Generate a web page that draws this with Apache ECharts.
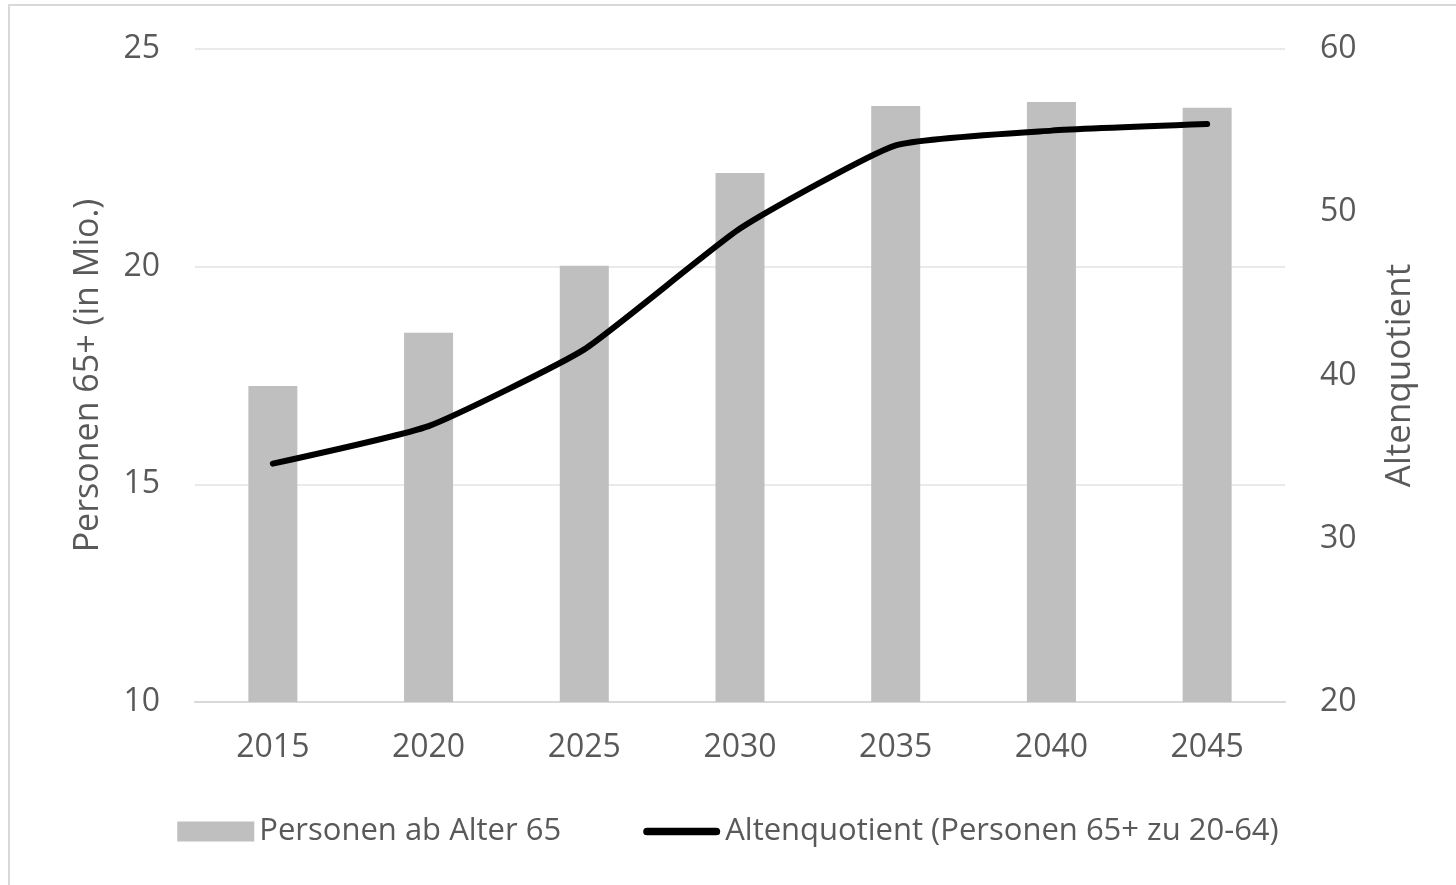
<!DOCTYPE html>
<html>
<head>
<meta charset="utf-8">
<script src="https://cdn.jsdelivr.net/npm/echarts@6/dist/echarts.min.js"></script>
<style>
  html, body { margin: 0; padding: 0; background: #fff; }
  #chart { width: 1456px; height: 885px; }
</style>
</head>
<body>
<div id="chart"></div>
<script>
const years = ['2015', '2020', '2025', '2030', '2035', '2040', '2045'];
const persons65 = [17.26, 18.48, 20.02, 22.15, 23.69, 23.78, 23.65];
const oldAgeRatio = [34.6, 36.9, 41.6, 49.0, 54.1, 55.0, 55.4];

const barName = 'Personen ab Alter 65';
const lineName = 'Altenquotient (Personen 65+ zu 20-64)';
const textColor = '#595959';
const fontFamily = '"Open Sans", "Noto Sans", sans-serif';

const chart = echarts.init(document.getElementById('chart'));

chart.setOption({
  animation: false,
  textStyle: { fontFamily: fontFamily },
  graphic: [{
    type: 'rect',
    shape: { x: 9, y: 5, width: 1600, height: 1000 },
    style: { fill: 'none', stroke: '#d9d9d9', lineWidth: 2 },
    silent: true
  }],
  grid: { left: 195, right: 171, top: 49, bottom: 183 },
  legend: {
    bottom: 33,
    left: 'center',
    itemGap: 82,
    itemWidth: 77,
    itemHeight: 20,
    textStyle: { color: textColor, fontSize: 31, fontFamily: fontFamily },
    data: [
      { name: barName, icon: 'rect' },
      { name: lineName, icon: 'path://M4,0 L76,0 A4,4 0 0 1 76,8 L4,8 A4,4 0 0 1 4,0 Z' }
    ]
  },
  xAxis: {
    type: 'category',
    data: years,
    axisLine: { lineStyle: { color: '#d9d9d9', width: 2 } },
    axisTick: { show: false },
    axisLabel: { color: textColor, fontSize: 32, margin: 30 }
  },
  yAxis: [{
    type: 'value',
    min: 10,
    max: 25,
    interval: 5,
    name: 'Personen 65+ (in Mio.)',
    nameLocation: 'middle',
    nameGap: 90,
    nameTextStyle: { color: textColor, fontSize: 34 },
    axisLine: { show: false },
    axisTick: { show: false },
    axisLabel: { color: textColor, fontSize: 32, margin: 35 },
    splitLine: { lineStyle: { color: '#e3e3e3', width: 1.5 } }
  }, {
    type: 'value',
    min: 20,
    max: 60,
    interval: 10,
    name: 'Altenquotient',
    nameLocation: 'middle',
    nameGap: 98,
    nameRotate: 90,
    nameTextStyle: { color: textColor, fontSize: 35 },
    axisLine: { show: false },
    axisTick: { show: false },
    axisLabel: { color: textColor, fontSize: 32, margin: 35 },
    splitLine: { show: false }
  }],
  series: [{
    name: barName,
    type: 'bar',
    data: persons65,
    barWidth: 49,
    itemStyle: { color: '#bfbfbf' }
  }, {
    name: lineName,
    type: 'line',
    yAxisIndex: 1,
    data: oldAgeRatio,
    symbol: 'none',
    smooth: 0.15,
    lineStyle: { color: '#000', width: 6, cap: 'round' },
    itemStyle: { color: '#000' }
  }]
});
</script>
</body>
</html>
